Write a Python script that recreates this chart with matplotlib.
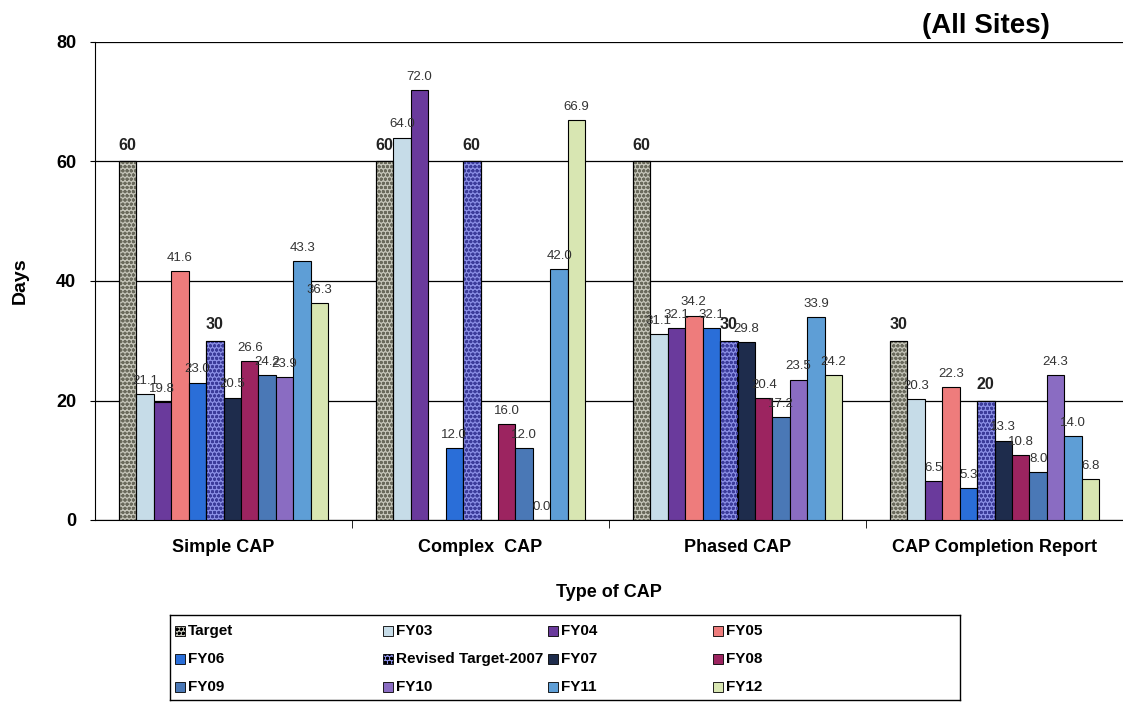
import numpy as np
import matplotlib
matplotlib.use('Agg')
import matplotlib.pyplot as plt
from matplotlib.patches import Rectangle

plt.rcParams['font.family'] = ['Liberation Sans', 'DejaVu Sans']

# Data
categories = ['Simple CAP', 'Complex  CAP', 'Phased CAP', 'CAP Completion Report']
series = ['Target', 'FY03', 'FY04', 'FY05', 'FY06', 'Revised Target-2007',
          'FY07', 'FY08', 'FY09', 'FY10', 'FY11', 'FY12']
nan = np.nan
target = [60, 60, 60, 30]
fy03 = [21.1, 64.0, 31.1, 20.3]
fy04 = [19.8, 72.0, 32.1, 6.5]
fy05 = [41.6, nan, 34.2, 22.3]
fy06 = [23.0, 12.0, 32.1, 5.3]
revised = [30, 60, 30, 20]
fy07 = [20.5, nan, 29.8, 13.3]
fy08 = [26.6, 16.0, 20.4, 10.8]
fy09 = [24.2, 12.0, 17.2, 8.0]
fy10 = [23.9, 0.0, 23.5, 24.3]
fy11 = [43.3, 42.0, 33.9, 14.0]
fy12 = [36.3, 66.9, 24.2, 6.8]
values = [target, fy03, fy04, fy05, fy06, revised, fy07, fy08, fy09, fy10, fy11, fy12]

colors = ['#c4c4b8', '#c6dce8', '#6a3a9c', '#ee7c7c', '#2a6ed8', '#8a8ee4',
          '#1e2c4c', '#9c2460', '#4a78b6', '#8a6cc2', '#5e9ed6', '#d8e6b2']
hatches = {0: ('oooo', '#6a6a5c'), 5: ('oooo', '#3c3c9a')}
bold_labels = {0, 5}

W, H = 1123, 702
fig = plt.figure(figsize=(W / 100, H / 100), dpi=100)
ax = fig.add_axes([95 / W, 1 - 520 / H, 1 - 95 / W, 478 / H])

x = np.arange(len(categories))
w = 0.068
n = len(series)
for i, (vals, c) in enumerate(zip(values, colors)):
    pos = x + (i - (n - 1) / 2) * w
    ax.bar(pos, vals, w, color=c, edgecolor='black', linewidth=0.8, zorder=3)
    if i in hatches:
        h, hc = hatches[i]
        ax.bar(pos, vals, w, fill=False, hatch=h, edgecolor=hc, linewidth=0, zorder=3.5)
        ax.bar(pos, vals, w, fill=False, edgecolor='black', linewidth=0.8, zorder=3.6)
    for p, v in zip(pos, vals):
        if np.isnan(v):
            continue
        if i in bold_labels:
            ax.text(p, v + 1.5, f'{v:g}', ha='center', va='bottom', fontsize=11.5,
                    fontweight='bold', color='#222222', zorder=5)
        else:
            ax.text(p, v + 1.2, f'{v:.1f}', ha='center', va='bottom', fontsize=9.5,
                    color='#333333', zorder=5)

ax.set_xlim(-0.5, len(categories) - 0.5)
ax.set_ylim(0, 80)
ax.set_yticks([0, 20, 40, 60, 80])
ax.yaxis.grid(True, color='black', linewidth=0.9, zorder=0)
ax.set_xticks(x)
ax.set_xticklabels(categories, fontsize=13, fontweight='bold')
ax.set_xticks(np.arange(0.5, len(categories) - 0.5), minor=True)
ax.tick_params(axis='x', which='major', length=0, pad=14)
ax.tick_params(axis='x', which='minor', length=6, direction='out')
ax.tick_params(axis='y', pad=10)
for lab in ax.get_yticklabels():
    lab.set_fontweight('bold')
    lab.set_fontsize(13)
ax.spines['right'].set_visible(False)
ax.spines['top'].set_visible(False)
ax.set_ylabel('Days', fontsize=14, fontweight='bold', labelpad=20)
ax.set_xlabel('Type of CAP', fontsize=13, fontweight='bold', labelpad=20)

fig.text(986 / W, 1 - 26 / H, '(All Sites)', ha='center', va='center', fontsize=20, fontweight='bold')

# legend box laid out row-wise with uneven columns like the original
lax = fig.add_axes([170 / W, 1 - 700 / H, 790 / W, 85 / H])
lax.set_xlim(0, 790)
lax.set_ylim(85, 0)
lax.set_xticks([])
lax.set_yticks([])
for s in lax.spines.values():
    s.set_linewidth(1.0)
col_x = [5, 213, 378, 543]
row_y = [16, 44, 72]
for k, name in enumerate(series):
    r, cidx = divmod(k, 4)
    hx, hy = col_x[cidx], row_y[r]
    lax.add_patch(Rectangle((hx, hy - 5), 10, 10, facecolor=colors[k], edgecolor='black',
                            linewidth=0.6, hatch=hatches[k][0] if k in hatches else None))
    lax.text(hx + 13, hy, name, ha='left', va='center', fontsize=11, fontweight='bold')

fig.savefig('out.png', dpi=100)
